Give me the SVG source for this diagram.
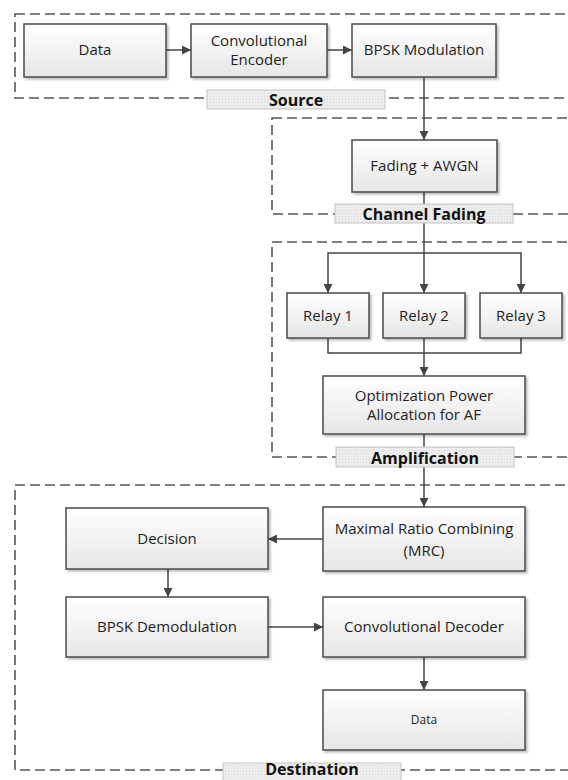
<svg xmlns="http://www.w3.org/2000/svg" width="568" height="780" viewBox="0 0 568 780">
<style>
.grp{fill:none;stroke:#555;stroke-width:1.6;stroke-dasharray:10 5}
.box{fill:url(#boxg);stroke:#4a4a4a;stroke-width:1.5;filter:url(#sh)}
.lbl{fill:url(#dots);stroke:#c4c4c4;stroke-width:1}
.t{font-family:"Open Sans","Liberation Sans",sans-serif;font-size:15px;fill:#1e1e1e;text-anchor:middle}
.ts{font-family:"Open Sans","Liberation Sans",sans-serif;font-size:12px;fill:#1e1e1e;text-anchor:middle}
.tl{font-family:"Open Sans","Liberation Sans",sans-serif;font-size:16px;font-weight:bold;fill:#111;text-anchor:middle}
.c{fill:none;stroke:#444;stroke-width:1.5}
.a{marker-end:url(#ah)}
</style>
<defs>
<linearGradient id="boxg" x1="0" y1="0" x2="0" y2="1">
<stop offset="0" stop-color="#ffffff"/>
<stop offset="1" stop-color="#e6e6e6"/>
</linearGradient>
<pattern id="dots" width="3" height="3" patternUnits="userSpaceOnUse">
<rect width="3" height="3" fill="#ededed"/>
<rect width="1" height="1" fill="#d6d6d6"/>
</pattern>
<filter id="sh" x="-10%" y="-10%" width="130%" height="140%">
<feDropShadow dx="2" dy="2" stdDeviation="1.2" flood-color="#000" flood-opacity="0.25"/>
</filter>
<marker id="ah" viewBox="0 0 10 10" refX="10" refY="5" markerWidth="9" markerHeight="9" markerUnits="userSpaceOnUse" orient="auto">
<path d="M0,0 L10,5 L0,10 z" fill="#444"/>
</marker>
</defs>

<g id="groups">
<rect class="grp" x="15" y="14" width="600" height="84"/>
<rect class="grp" x="272" y="118" width="400" height="96"/>
<rect class="grp" x="272" y="242" width="400" height="215"/>
<rect class="grp" x="15" y="485" width="600" height="285"/>
</g>

<g id="connectors">
<line class="c a" x1="166" y1="50" x2="191" y2="50"/>
<line class="c a" x1="327" y1="50" x2="352" y2="50"/>
<line class="c a" x1="424" y1="77" x2="424" y2="140"/>
<line class="c a" x1="424" y1="192" x2="424" y2="293"/>
<polyline class="c a" points="424,253 328,253 328,293"/>
<polyline class="c a" points="424,253 521,253 521,293"/>
<polyline class="c" points="328,338 328,353 521,353 521,338"/>
<line class="c" x1="424" y1="338" x2="424" y2="353"/>
<line class="c a" x1="424" y1="353" x2="424" y2="376"/>
<line class="c a" x1="424" y1="434" x2="424" y2="507"/>
<line class="c a" x1="323" y1="539" x2="268" y2="539"/>
<line class="c a" x1="168" y1="569" x2="168" y2="597"/>
<line class="c a" x1="268" y1="627" x2="323" y2="627"/>
<line class="c a" x1="424" y1="657" x2="424" y2="690"/>
</g>

<g id="data-in"><rect class="box" x="24" y="24" width="142" height="53"/><text class="t" x="95" y="55">Data</text></g>
<g id="conv-encoder"><rect class="box" x="191" y="24" width="136" height="53"/><text class="t" x="259" y="46">Convolutional</text><text class="t" x="259" y="65">Encoder</text></g>
<g id="bpsk-mod"><rect class="box" x="352" y="24" width="144" height="53"/><text class="t" x="424" y="55">BPSK Modulation</text></g>
<g id="fading"><rect class="box" x="352" y="140" width="145" height="52"/><text class="t" x="424.5" y="171">Fading + AWGN</text></g>
<g id="relay1"><rect class="box" x="287" y="293" width="82" height="45"/><text class="t" x="328" y="321">Relay 1</text></g>
<g id="relay2"><rect class="box" x="383" y="293" width="82" height="45"/><text class="t" x="424" y="321">Relay 2</text></g>
<g id="relay3"><rect class="box" x="480" y="293" width="82" height="45"/><text class="t" x="521" y="321">Relay 3</text></g>
<g id="opa"><rect class="box" x="323" y="376" width="202" height="58"/><text class="t" x="424" y="401">Optimization Power</text><text class="t" x="424" y="420">Allocation for AF</text></g>
<g id="mrc"><rect class="box" x="323" y="507" width="202" height="64"/><text class="t" x="424" y="534">Maximal Ratio Combining</text><text class="t" x="424" y="556">(MRC)</text></g>
<g id="decision"><rect class="box" x="66" y="508" width="202" height="61"/><text class="t" x="167" y="544">Decision</text></g>
<g id="bpsk-demod"><rect class="box" x="66" y="597" width="202" height="60"/><text class="t" x="167" y="632">BPSK Demodulation</text></g>
<g id="conv-decoder"><rect class="box" x="323" y="597" width="202" height="60"/><text class="t" x="424" y="632">Convolutional Decoder</text></g>
<g id="data-out"><rect class="box" x="323" y="690" width="202" height="60"/><text class="ts" x="424" y="724">Data</text></g>

<g id="label-source"><rect class="lbl" x="207" y="90" width="178" height="19"/><text class="tl" x="296" y="106">Source</text></g>
<g id="label-channel"><rect class="lbl" x="335" y="204" width="178" height="19"/><text class="tl" x="424" y="220">Channel Fading</text></g>
<g id="label-amp"><rect class="lbl" x="336" y="447" width="178" height="20"/><text class="tl" x="425" y="464">Amplification</text></g>
<g id="label-dest"><rect class="lbl" x="223" y="763" width="178" height="20"/><text class="tl" x="312" y="775">Destination</text></g>
</svg>
